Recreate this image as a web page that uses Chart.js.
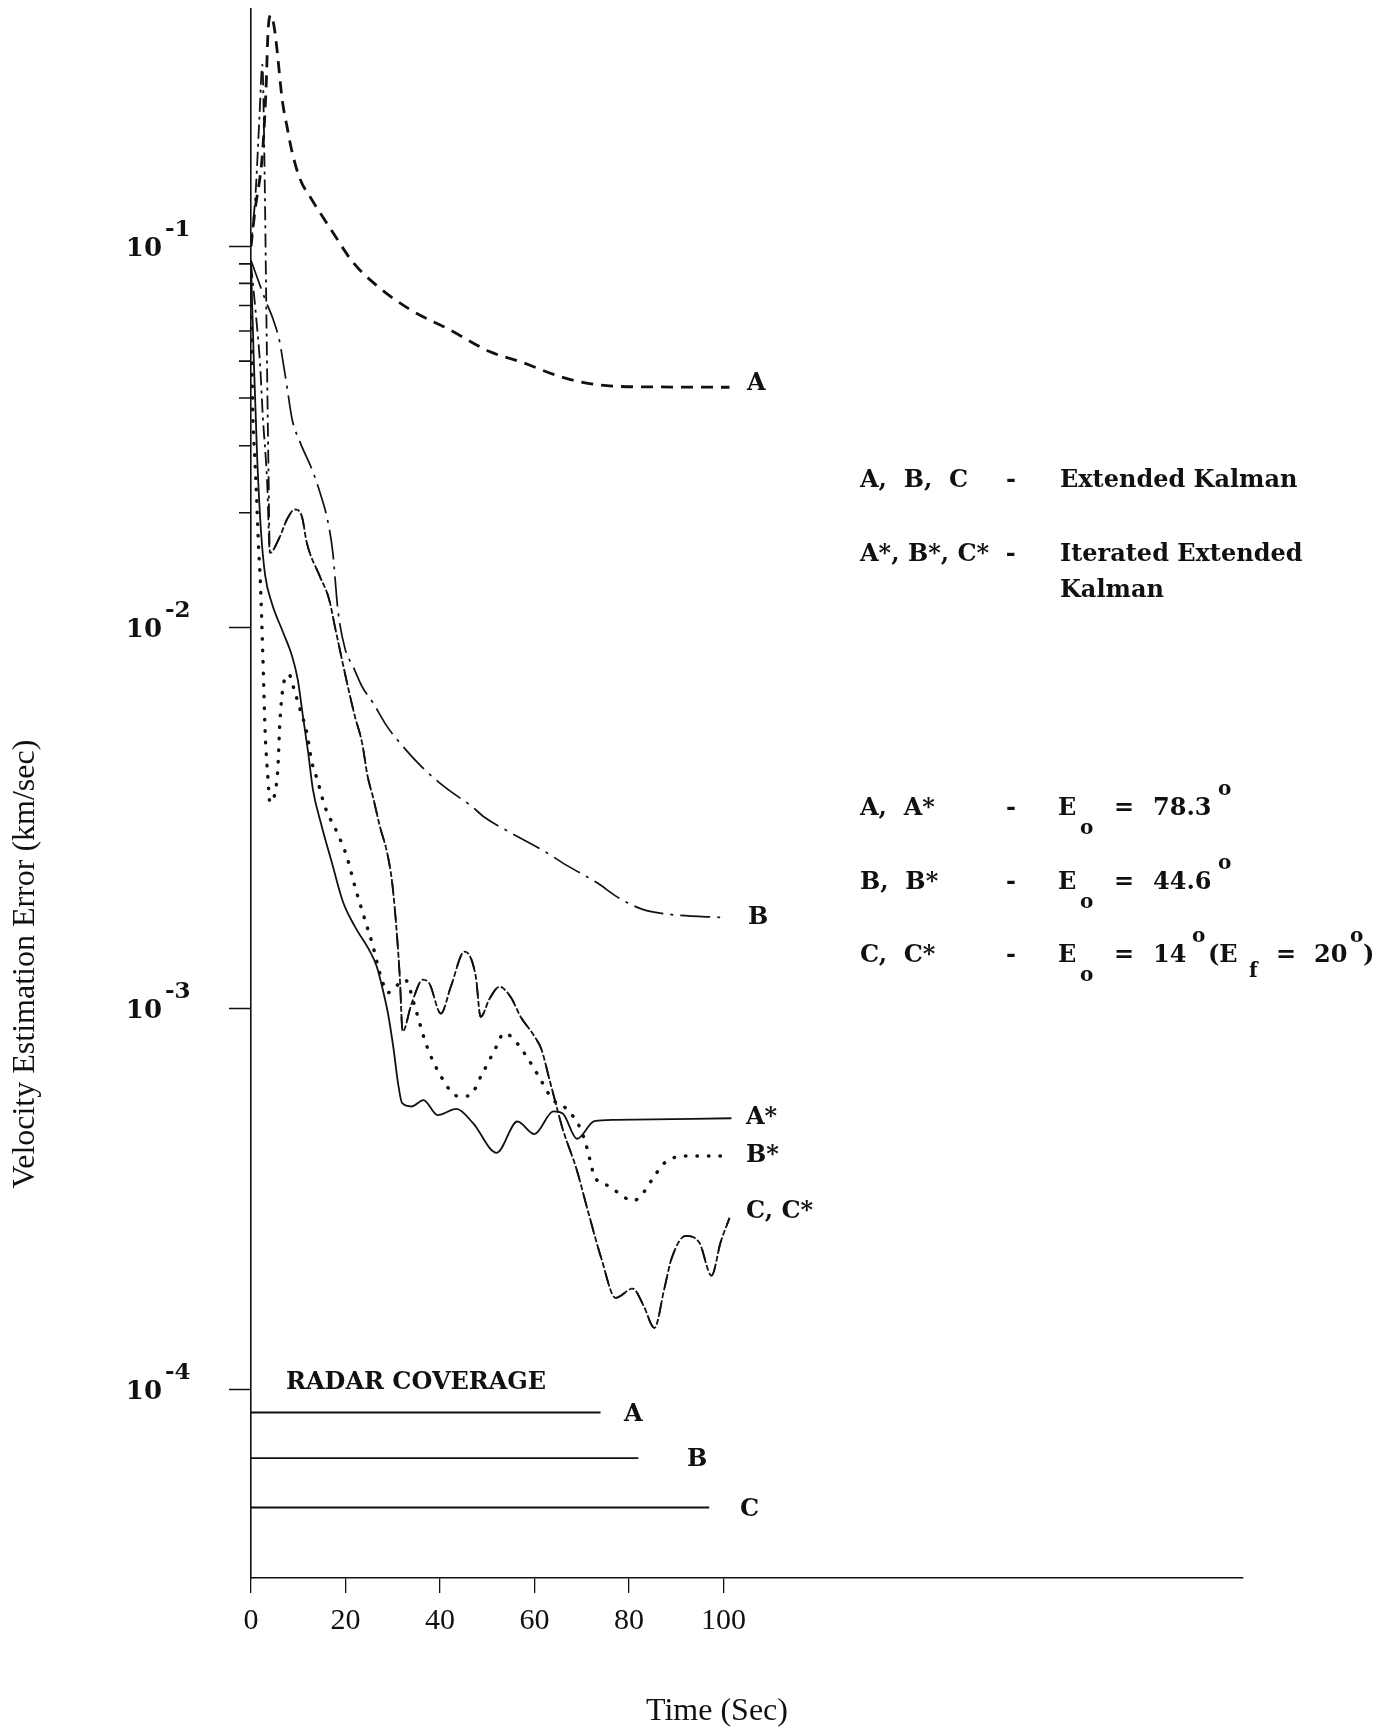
<!DOCTYPE html>
<html>
<head>
<meta charset="utf-8">
<title>Velocity Estimation Error</title>
<script src="https://cdn.jsdelivr.net/npm/chart.js@4.4.1/dist/chart.umd.min.js"></script>
<style>
  html, body { margin: 0; padding: 0; background: #fff; }
  #wrap { width: 1387px; height: 1728px; }
</style>
</head>
<body>
<div id="wrap"><canvas id="errChart"></canvas></div>
<script>
// Velocity estimation error (km/sec) against time (sec)
const timeA = [0, 0.8, 2.5, 3.2, 3.6, 4.2, 4.9, 5.5, 6.6, 7.6, 8.7, 10.4, 12.5, 17.3, 21.6, 26.6, 33.6, 42, 50.5, 57.5, 65.3, 70.2, 76.5, 85, 101.3];
const errA = [0.1, 0.123, 0.18, 0.263, 0.365, 0.405, 0.377, 0.329, 0.243, 0.207, 0.177, 0.15, 0.135, 0.109, 0.0908, 0.079, 0.0684, 0.0605, 0.053, 0.0496, 0.0456, 0.044, 0.043, 0.0428, 0.0427];

const timeB = [0, 3.0, 4.7, 6.1, 6.8, 7.6, 8.7, 10.4, 12.9, 14.6, 16.3, 17.3, 18.4, 19.9, 21.6, 23.5, 25.8, 28.8, 31.1, 36.2, 41.4, 46.5, 49.5, 54.8, 62.2, 67.2, 73.2, 77.6, 82.9, 87.9, 100.6];
const errB = [0.092, 0.0726, 0.0643, 0.056, 0.0496, 0.043, 0.0352, 0.0306, 0.026, 0.0226, 0.0189, 0.0158, 0.0111, 0.0088, 0.0079, 0.0070, 0.00635, 0.0055, 0.00505, 0.0043, 0.00378, 0.00341, 0.00317, 0.0029, 0.00258, 0.00236, 0.00214, 0.00196, 0.00182, 0.00177, 0.00173];

const timeAStar = [0, 0.6, 1.3, 2.1, 3.0, 4.4, 6.8, 8.7, 9.9, 11.0, 12.1, 13.1, 15.0, 17.1, 19.5, 22.0, 25.2, 26.6, 27.9, 29.0, 30.2, 31.1, 32.0, 34.0, 36.5, 39.5, 43.5, 47.0, 52.0, 56.4, 60.0, 64.0, 66.0, 69.0, 72.7, 77.0, 101.7];
const errAStar = [0.09, 0.05, 0.028, 0.018, 0.0137, 0.0116, 0.0097, 0.0084, 0.0073, 0.00584, 0.0047, 0.00376, 0.003, 0.00242, 0.0019, 0.00164, 0.00141, 0.00129, 0.00112, 0.00097, 0.00078, 0.00064, 0.000564, 0.000553, 0.000575, 0.000525, 0.000545, 0.0005, 0.000418, 0.000505, 0.000468, 0.000537, 0.00053, 0.000455, 0.000506, 0.00051, 0.000515];

const timeBStar = [0, 0.4, 0.8, 1.2, 1.6, 2.0, 2.5, 3.0, 3.6, 4.0, 5.1, 5.7, 6.1, 6.8, 8.0, 9.3, 10.4, 11.8, 12.9, 14.0, 15.6, 18.2, 20.3, 22.0, 24.1, 25.8, 27.5, 29.0, 30.6, 32.6, 34.9, 37.0, 40.2, 43.8, 46.1, 49.0, 52.0, 53.5, 55.0, 57.9, 60.9, 63.8, 66.8, 69.8, 71.2, 72.7, 75.7, 81.0, 82.5, 85.4, 87.5, 92.0, 101.7];
const errBStar = [0.07, 0.0358, 0.0281, 0.0217, 0.0163, 0.013, 0.0085, 0.0053, 0.004, 0.00347, 0.00369, 0.0043, 0.0056, 0.007, 0.00753, 0.00675, 0.0061, 0.0053, 0.00442, 0.004, 0.0034, 0.0029, 0.0025, 0.00209, 0.00171, 0.00146, 0.00121, 0.0011, 0.00114, 0.00119, 0.00099, 0.00081, 0.000664, 0.000589, 0.000589, 0.000676, 0.000796, 0.000861, 0.000845, 0.000762, 0.000664, 0.000578, 0.000545, 0.000482, 0.000427, 0.000363, 0.000342, 0.000313, 0.000322, 0.000363, 0.000393, 0.00041, 0.00041];

const timeC = [0, 1.2, 1.9, 2.5, 3.4, 4.0, 6.1, 7.6, 9.3, 10.8, 11.8, 14.6, 16.5, 17.8, 18.8, 20.3, 22.0, 23.5, 24.7, 25.8, 27.3, 28.8, 29.8, 30.4, 31.0, 31.5, 32.1, 34.0, 36.4, 37.8, 40.2, 42.3, 45.2, 47.6, 48.6, 50.5, 52.6, 55.0, 57.1, 60.0, 61.5, 63.0, 64.5, 66.0, 68.9, 71.2, 74.2, 77.2, 80.8, 83.1, 85.4, 87.5, 89.0, 92.0, 94.9, 97.5, 99.4, 101.3];
const errC = [0.09, 0.063, 0.0496, 0.0358, 0.0244, 0.0157, 0.0173, 0.0192, 0.0204, 0.0195, 0.0167, 0.0136, 0.0119, 0.0100, 0.00875, 0.00718, 0.00584, 0.00499, 0.00406, 0.0036, 0.003, 0.00257, 0.00218, 0.00185, 0.0015, 0.00121, 0.00087, 0.00103, 0.00119, 0.00116, 0.00097, 0.00114, 0.00141, 0.00121, 0.00095, 0.00106, 0.00114, 0.00107, 0.00095, 0.000845, 0.00078, 0.000664, 0.000564, 0.000482, 0.000379, 0.000298, 0.00022, 0.000174, 0.000184, 0.000166, 0.000145, 0.000184, 0.00022, 0.000253, 0.000243, 0.000199, 0.000243, 0.000282];

// C* spikes up near the start, then runs together with C from the first dip on
const timeCStarEarly = [0, 1.0, 1.8, 2.4, 2.9, 3.3, 3.7];
const errCStarEarly = [0.1, 0.14, 0.22, 0.30, 0.15, 0.06, 0.026];

// radar coverage bars (time span at a fixed height)
const radarNames = ['A', 'B', 'C'];
const radarEnd = [74, 82, 97];
const radarLevel = [8.7e-5, 6.6e-5, 4.9e-5];

// axis ticks
const xTicks = [0, 20, 40, 60, 80, 100];
const yDecades = [1e-1, 1e-2, 1e-3, 1e-4];
const yDecadeExp = ['-1', '-2', '-3', '-4'];
const yMinor = [0.09, 0.08, 0.07, 0.06, 0.05, 0.04, 0.03, 0.02];

const toPoints = (ts, vs) => ts.map((t, i) => ({ x: t, y: vs[i] }));

const cStarPoints = toPoints(timeCStarEarly, errCStarEarly)
    .concat(toPoints(timeC.slice(5), errC.slice(5)));

const curve = (label, points, dash, width, cap) => ({
    label: label,
    data: points,
    borderColor: '#111',
    borderWidth: width,
    borderDash: dash,
    borderCapStyle: cap || 'butt',
    pointRadius: 0,
    fill: false,
    cubicInterpolationMode: 'monotone',
});

const datasets = [
    curve('A', toPoints(timeA, errA), [12, 8], 2.8),
    curve('B', toPoints(timeB, errB), [30, 7, 3, 7], 1.7),
    curve('A*', toPoints(timeAStar, errAStar), [], 1.8),
    curve('B*', toPoints(timeBStar, errBStar), [0.5, 11], 3.4, 'round'),
    curve('C', toPoints(timeC, errC), [14, 5, 3, 5], 1.8),
    curve('C*', cStarPoints, [14, 5, 3, 5], 1.8),
];
radarNames.forEach((name, i) => {
    datasets.push({
        label: 'Radar ' + name,
        data: [{ x: 0, y: radarLevel[i] }, { x: radarEnd[i], y: radarLevel[i] }],
        borderColor: '#111',
        borderWidth: 1.8,
        pointRadius: 0,
        tension: 0,
    });
});

// text drawn on top of the chart: tick labels, curve labels, legend, titles
const annotations = {
    id: 'annotations',
    afterDraw(chart) {
        const ctx = chart.ctx;
        const ys = chart.scales.y;
        const left = chart.chartArea.left;
        const serif = '"DejaVu Serif"';
        const times = '"Liberation Serif"';

        const text = (str, x, y, font, align, baseline) => {
            ctx.font = font;
            ctx.textAlign = align || 'left';
            ctx.textBaseline = baseline || 'middle';
            ctx.fillText(str, x, y);
        };
        const bold = (size) => 'bold ' + size + 'px ' + serif;

        ctx.save();
        ctx.fillStyle = '#111';
        ctx.strokeStyle = '#111';

        // y ticks
        ctx.lineWidth = 1.6;
        ctx.beginPath();
        yDecades.forEach((v) => {
            const y = ys.getPixelForValue(v);
            ctx.moveTo(left - 22, y);
            ctx.lineTo(left, y);
        });
        yMinor.forEach((v) => {
            const y = ys.getPixelForValue(v);
            ctx.moveTo(left - 12, y);
            ctx.lineTo(left, y);
        });
        ctx.stroke();

        yDecades.forEach((v, i) => {
            const y = ys.getPixelForValue(v);
            text('10', 162, y + 10, bold(26), 'right', 'alphabetic');
            text(yDecadeExp[i], 165, y - 10, bold(23), 'left', 'alphabetic');
        });

        // curve labels at the right ends
        const endY = (vals) => ys.getPixelForValue(vals[vals.length - 1]);
        text('A', 747, endY(errA) - 4, bold(24));
        text('B', 748, endY(errB), bold(24));
        text('A*', 746, endY(errAStar), bold(24));
        text('B*', 746, endY(errBStar), bold(24));
        text('C, C*', 746, endY(errC) - 6, bold(24));

        // radar coverage
        text('RADAR COVERAGE', 286, 1383, bold(24));
        const radarLabelX = [624, 687, 740];
        radarNames.forEach((name, i) => {
            text(name, radarLabelX[i], ys.getPixelForValue(radarLevel[i]) + 2, bold(24));
        });

        // legend block
        const fs = bold(24);
        const small = bold(20);
        text('A,  B,  C', 860, 481, fs);
        text('-', 1006, 481, fs);
        text('Extended Kalman', 1060, 481, fs);
        text('A*, B*, C*  -', 860, 555, fs);
        text('Iterated Extended', 1060, 555, fs);
        text('Kalman', 1060, 591, fs);

        const elevRow = (name, y, value) => {
            text(name, 860, y, fs);
            text('-', 1006, y, fs);
            text('E', 1058, y, fs);
            text('o', 1080, y + 20, small);
            text('=', 1114, y, fs);
            text(value, 1153, y, fs);
        };
        elevRow('A,  A*', 809, '78.3');
        text('o', 1218, 790, small);
        elevRow('B,  B*', 883, '44.6');
        text('o', 1218, 864, small);
        elevRow('C,  C*', 956, '14');
        text('o', 1192, 937, small);
        text('(E', 1208, 956, fs);
        text('f', 1249, 972, small);
        text('=', 1276, 956, fs);
        text('20', 1314, 956, fs);
        text('o', 1350, 937, small);
        text(')', 1363, 956, fs);

        // axis titles
        text('Time (Sec)', 717, 1712, '32px ' + times, 'center');
        ctx.translate(26, 964);
        ctx.rotate(-Math.PI / 2);
        text('Velocity Estimation Error (km/sec)', 0, 0, '32px ' + times, 'center');
        ctx.restore();
    },
};

new Chart(document.getElementById('errChart'), {
    type: 'line',
    data: { datasets: datasets },
    options: {
        responsive: true,
        maintainAspectRatio: false,
        animation: false,
        devicePixelRatio: 1,
        layout: { padding: { left: 0, top: 9, right: 144, bottom: 0 } },
        plugins: {
            legend: { display: false },
            tooltip: { enabled: false },
        },
        scales: {
            x: {
                type: 'linear',
                min: 0,
                max: 210,
                afterBuildTicks: (scale) => {
                    scale.ticks = xTicks.map((v) => ({ value: v }));
                },
                afterFit: (scale) => { scale.height = 150; },
                ticks: {
                    autoSkip: false,
                    maxRotation: 0,
                    padding: 10,
                    color: '#111',
                    font: { family: 'Liberation Serif', size: 30 },
                },
                grid: {
                    drawOnChartArea: false,
                    tickLength: 15,
                    color: '#111',
                    lineWidth: 1.3,
                },
                border: { color: '#111', width: 1.6 },
            },
            y: {
                type: 'logarithmic',
                min: 3.2e-5,
                max: 0.42,
                afterFit: (scale) => { scale.width = 251; },
                ticks: { display: false },
                grid: { display: false },
                border: { color: '#111', width: 1.6 },
            },
        },
    },
    plugins: [annotations],
});
</script>
</body>
</html>
